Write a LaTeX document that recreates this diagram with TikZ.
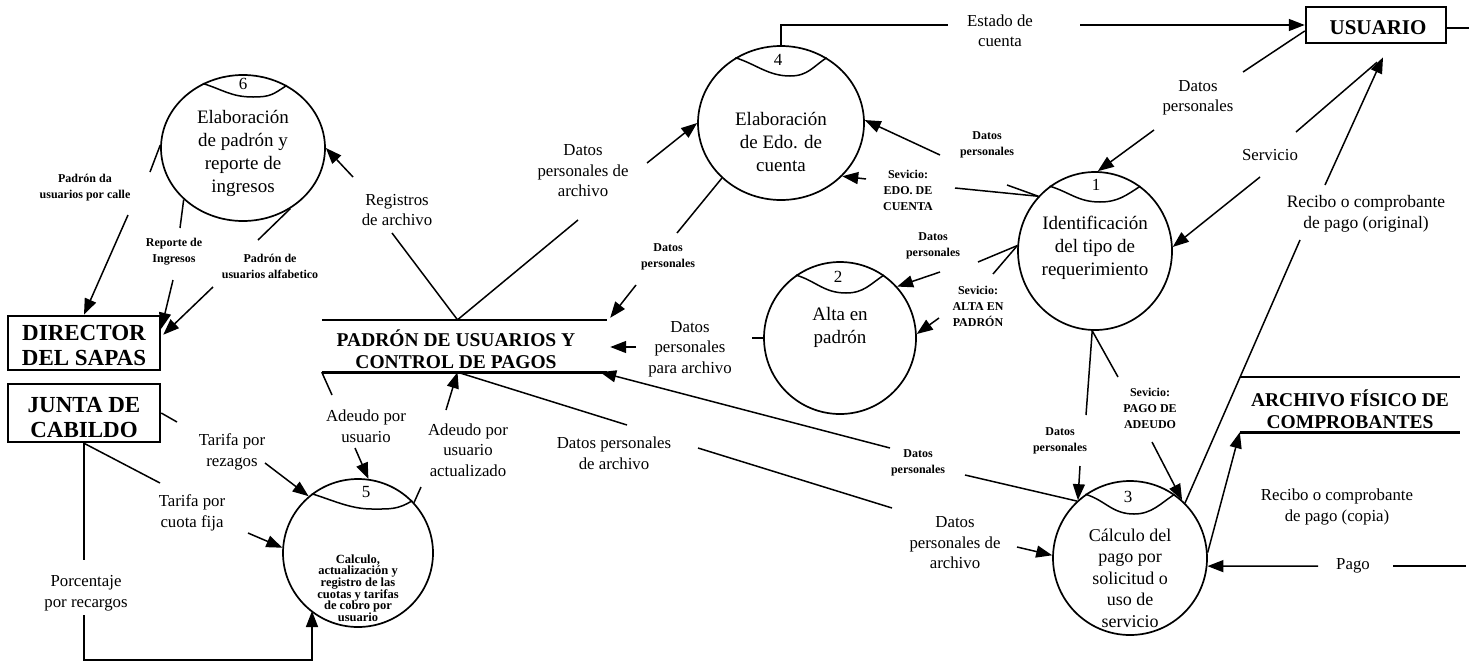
\documentclass[tikz,border=0pt]{standalone}
\usepackage{fontspec}
\setmainfont{Liberation Serif}
\usetikzlibrary{arrows.meta,calc,shapes.geometric}
% header line of a process bubble: node, left angle, right angle, trough point
\newcommand{\hwave}[4]{\draw[wave] (#1.#2) .. controls +(20,6) and +(-22,0) .. #4 .. controls +(18,0) and +(-14,9) .. (#1.#3);}
\begin{document}
\begin{tikzpicture}[x=1pt,y=-1pt,
  flow/.style={line width=1.5pt},
  arr/.style={flow,-{Triangle[length=16pt,width=12pt]}},
  proc/.style={draw,ellipse,line width=1.7pt,inner sep=0pt},
  wave/.style={line width=1.5pt},
  ptxt/.style={align=center,inner sep=0pt,font=\fontsize{19}{23}\selectfont},
  pnum/.style={inner sep=0pt,font=\fontsize{17}{17}\selectfont},
  lbl/.style={align=center,inner sep=0pt,font=\fontsize{16.8}{20.5}\selectfont},
  sml/.style={align=center,inner sep=0pt,font=\bfseries\fontsize{12}{16}\selectfont},
  entbox/.style={draw,line width=2.5pt,inner sep=0pt},
  enttxt/.style={align=center,inner sep=0pt,font=\bfseries\fontsize{23}{25}\selectfont},
  store/.style={inner sep=0pt},
  storeline/.style={line width=2.6pt},
  storetxt/.style={align=center,inner sep=0pt,font=\bfseries\fontsize{19.5}{22}\selectfont},
]
\fill[white] (0,0) rectangle (1471,667);
\useasboundingbox (0,0) rectangle (1471,667);

% ---------- external entities ----------
\node[entbox,minimum width=140pt,minimum height=36pt] (usr) at (1376,25) {};
\node[enttxt,font=\bfseries\fontsize{21}{23}\selectfont] (usrt) at (1378,28) {USUARIO};
\node[entbox,minimum width=152pt,minimum height=54pt] (dir) at (84,343) {};
\node[enttxt] (dirt) at (84,345) {DIRECTOR\\DEL SAPAS};
\node[entbox,minimum width=152pt,minimum height=58pt] (jun) at (84,413) {};
\node[enttxt] (junt) at (84,418) {JUNTA DE\\CABILDO};

% ---------- data stores ----------
\node[store,minimum width=285pt,minimum height=52pt] (pu) at (464.5,346) {};
\draw[storeline] (pu.north west) -- (pu.north east);
\draw[storeline] (pu.south west) -- (pu.south east);
\node[storetxt] (put) at (456,349) {PADRÓN DE USUARIOS Y\\CONTROL DE PAGOS};

\node[store,minimum width=220pt,minimum height=55pt] (ar) at (1350,404.5) {};
\draw[storeline] (ar.north west) -- (ar.north east);
\draw[storeline] (ar.south west) -- (ar.south east);
\node[storetxt] (art) at (1350,409) {ARCHIVO FÍSICO DE\\COMPROBANTES};

% ---------- processes ----------
\node[proc,minimum width=164pt,minimum height=146pt] (c6) at (243,148) {};
\hwave{c6}{122}{55}{(253,97)}
\node[pnum] (n6) at (243,84) {6};
\node[ptxt] (t6) at (243,153) {Elaboración\\de padrón y\\reporte de\\ingresos};

\node[proc,minimum width=166pt,minimum height=154pt] (c4) at (781,123) {};
\hwave{c4}{125}{55}{(790,76)}
\node[pnum] (n4) at (778,60) {4};
\node[ptxt] (t4) at (781,142) {Elaboración\\de Edo. de\\cuenta};

\node[proc,minimum width=154pt,minimum height=158pt] (c1) at (1095,251) {};
\hwave{c1}{125}{55}{(1100,202)}
\node[pnum] (n1) at (1096,185) {1};
\node[ptxt] (t1) at (1095,248) {Identificación\\del tipo de\\requerimiento};

\node[proc,minimum width=152pt,minimum height=152pt] (c2) at (840,338) {};
\hwave{c2}{125}{55}{(846,293)}
\node[pnum] (n2) at (838,277) {2};
\node[ptxt] (t2) at (840,327) {Alta en\\padrón};

\node[proc,minimum width=154pt,minimum height=154pt] (c3) at (1130,558) {};
\hwave{c3}{125}{55}{(1134,514)}
\node[pnum] (n3) at (1128,497) {3};
\node[ptxt,font=\fontsize{18}{21.5}\selectfont] (t3) at (1130,578) {Cálculo del\\pago por\\solicitud o\\uso de\\servicio};

\node[proc,minimum width=150pt,minimum height=148pt] (c5) at (358,553) {};
\hwave{c5}{128}{44}{(372,509)}
\node[pnum] (n5) at (366,492) {5};
\node[align=center,inner sep=0pt,font=\bfseries\fontsize{12.5}{11.6}\selectfont] (t5) at (358,588)
  {Calculo,\\actualización y\\registro de las\\cuotas y tarifas\\de cobro por\\usuario};

% ---------- data flows ----------
% estado de cuenta
\coordinate (e1) at (781,25);
\coordinate (e2) at (948,25);
\coordinate (e3) at (1080,25);
\draw[flow] (c4.north) -- (e1) -- (e2);
\draw[arr] (e3) -- (usr.west);
\node[lbl] (l1) at (1000,31) {Estado de\\cuenta};
\coordinate (ustub) at (1469,28);
\draw[flow] (usr.east |- ustub) -- (ustub);

% datos personales: usuario -> 1
\coordinate (d2a) at (1243,72);
\coordinate (d2b) at (1154,130);
\draw[flow] ($(usr.west)+(0,6)$) -- (d2a);
\draw[arr] (d2b) -- (c1.88);
\node[lbl] (l2) at (1198,98) {Datos\\personales};

% servicio: usuario -> 1
\coordinate (s3a) at (1296,132);
\coordinate (s3b) at (1260,177);
\draw[flow] ($(usr.south)+(1,18)$) -- (s3a);
\draw[arr] (s3b) -- (c1.3);
\node[lbl] (l3) at (1270,155) {Servicio};

% recibo original: 3 -> usuario
\coordinate (r4a) at (1300,240);
\coordinate (r4b) at (1325,185);
\draw[flow] (c3.45) -- (r4a);
\draw[arr] (r4b) -- ($(usr.south)+(7,13)$);
\node[lbl,font=\fontsize{17.5}{20.5}\selectfont] (l4) at (1366,214) {Recibo o comprobante\\de pago (original)};

% pago
\coordinate (g5a) at (1466,566);
\coordinate (g5b) at (1393,566);
\coordinate (g5c) at (1318,566);
\draw[flow] (g5a) -- (g5b);
\draw[arr] (g5c) -- (c3.-6);
\node[lbl] (l5) at (1353,566) {Pago};

% recibo copia: 3 -> archivo fisico
\draw[arr] (c3.4) -- (ar.south west);
\node[lbl] (l6) at (1337,507) {Recibo o comprobante\\de pago (copia)};

% 1 -> 3
\coordinate (p7a) at (1086,415);
\coordinate (p7b) at (1080,466);
\draw[flow] (c1.-92) -- (p7a);
\draw[arr] (p7b) -- (c3.132);
\node[sml] (l7) at (1060,441) {Datos\\personales};

\coordinate (p8a) at (1118,377);
\coordinate (p8b) at (1152,442);
\draw[flow] (c1.-92) -- (p8a);
\draw[arr] (p8b) -- (c3.48);
\node[sml] (l8) at (1150,408) {Sevicio:\\PAGO DE\\ADEUDO};

% 1 -> 4
\coordinate (p9a) at (1007,185);
\coordinate (p9b) at (940,155);
\draw[flow] (c1.136) -- (p9a);
\draw[arr] (p9b) -- (c4.2);
\node[sml] (l9) at (987,145) {Datos\\personales};

\coordinate (p10a) at (955,188);
\coordinate (p10b) at (866,179);
\draw[flow] (c1.136) -- (p10a);
\draw[arr] (p10b) -- (c4.-41);
\node[sml] (l10) at (908,190) {Sevicio:\\EDO. DE\\CUENTA};

% 1 -> 2
\coordinate (p11a) at (978,262);
\coordinate (p11b) at (940,272);
\draw[flow] (c1.176) -- (p11a);
\draw[arr] (p11b) -- (c2.42);
\node[sml] (l11) at (933,246) {Datos\\personales};

\coordinate (p12a) at (993,274);
\coordinate (p12b) at (939,318);
\draw[flow] (c1.176) -- (p12a);
\draw[arr] (p12b) -- (c2.3);
\node[sml] (l12) at (978,306) {Sevicio:\\ALTA EN\\PADRÓN};

% 2 -> padron
\coordinate (p13a) at (752,338);
\coordinate (p13b) at (636,347);
\draw[flow] (c2.west) -- (p13a);
\draw[arr] (p13b) -- ($(pu.east)+(3,1)$);
\node[lbl] (l13) at (690,349) {Datos\\personales\\para archivo};

% 3 -> padron
\coordinate (p14a) at (965,475);
\coordinate (p14b) at (890,448);
\draw[flow] (c3.133) -- (p14a);
\draw[arr] (p14b) -- ($(pu.south east)+(-7,0)$);
\node[sml] (l14) at (918,463) {Datos\\personales};

% padron -> 3
\coordinate (p15a) at (627,425);
\coordinate (p15b) at (698,448);
\coordinate (p15c) at (892,508);
\coordinate (p15d) at (1017,547);
\draw[flow] ($(pu.south)+(-7,0)$) -- (p15a);
\draw[flow] (p15b) -- (p15c);
\draw[arr] (p15d) -- (c3.178);
\node[lbl] (l15a) at (614,453) {Datos personales\\de archivo};
\node[lbl] (l15b) at (955,543) {Datos\\personales de\\archivo};

% 4 -> padron
\coordinate (p16a) at (677,233);
\coordinate (p16b) at (636,285);
\draw[flow] (c4.-137) -- (p16a);
\draw[arr] (p16b) -- ($(pu.north east)+(3,-2)$);
\node[sml] (l16) at (668,257) {Datos\\personales};

% padron -> 4
\coordinate (p17a) at (578,220);
\coordinate (p17b) at (647,163);
\draw[flow] ($(pu.north)+(-7,0)$) -- (p17a);
\draw[arr] (p17b) -- (c4.west);
\node[lbl] (l17) at (583,171) {Datos\\personales de\\archivo};

% padron -> 6
\coordinate (p18a) at (392,233);
\coordinate (p18b) at (353,177);
\draw[flow] ($(pu.north)+(-7,0)$) -- (p18a);
\draw[arr] (p18b) -- (c6.east);
\node[lbl] (l18) at (397,210) {Registros\\de archivo};

% 6 -> director
\coordinate (p19a) at (150,172);
\coordinate (p19b) at (128,215);
\draw[flow] (c6.178) -- (p19a);
\draw[arr] (p19b) -- (dir.north);
\node[sml] (l19) at (85,188) {Padrón da\\usuarios por calle};

\coordinate (p20a) at (180,228);
\coordinate (p20b) at (173,280);
\draw[flow] (c6.-139) -- (p20a);
\draw[arr] (p20b) -- ($(dir.north east)+(0,14)$);
\node[sml] (l20) at (174,252) {Reporte de\\Ingresos};

\coordinate (p21a) at (258,240);
\coordinate (p21b) at (213,287);
\draw[flow] (c6.-52) -- (p21a);
\draw[arr] (p21b) -- ($(dir.north east)+(2,20)$);
\node[sml] (l21) at (270,266) {Padrón de\\usuarios alfabetico};

% padron <-> 5
\coordinate (p22a) at (332,395);
\coordinate (p22b) at (355,448);
\draw[flow] (pu.south west) -- (p22a);
\draw[arr] (p22b) -- (c5.82);
\node[lbl] (l22) at (366,426) {Adeudo por\\usuario};

\coordinate (p23a) at (421,487);
\coordinate (p23b) at (446,410);
\draw[flow] (c5.42) -- (p23a);
\draw[arr] (p23b) -- ($(pu.south)+(-7,0)$);
\node[lbl] (l23) at (468,450) {Adeudo por\\usuario\\actualizado};

% junta -> 5
\coordinate (p24a) at (177,422);
\coordinate (p24b) at (265,463);
\draw[flow] (jun.east) -- (p24a);
\draw[arr] (p24b) -- (c5.131);
\node[lbl] (l24) at (232,452) {Tarifa por\\rezagos};

\coordinate (p25a) at (160,483);
\coordinate (p25b) at (248,533);
\draw[flow] (jun.south) -- (p25a);
\draw[arr] (p25b) -- (c5.176);
\node[lbl] (l25) at (192,513) {Tarifa por\\cuota fija};

\coordinate (p26a) at (84,560);
\coordinate (p26b) at (84,615);
\coordinate (p26c) at (84,660);
\coordinate (p26d) at (312,660);
\coordinate (c5b) at (312,611);
\draw[flow] (jun.south) -- (p26a);
\draw[arr] (p26b) -- (p26c) -- (p26d) -- (c5b);
\node[lbl] (l26) at (86,593) {Porcentaje\\por recargos};
\end{tikzpicture}
\end{document}
